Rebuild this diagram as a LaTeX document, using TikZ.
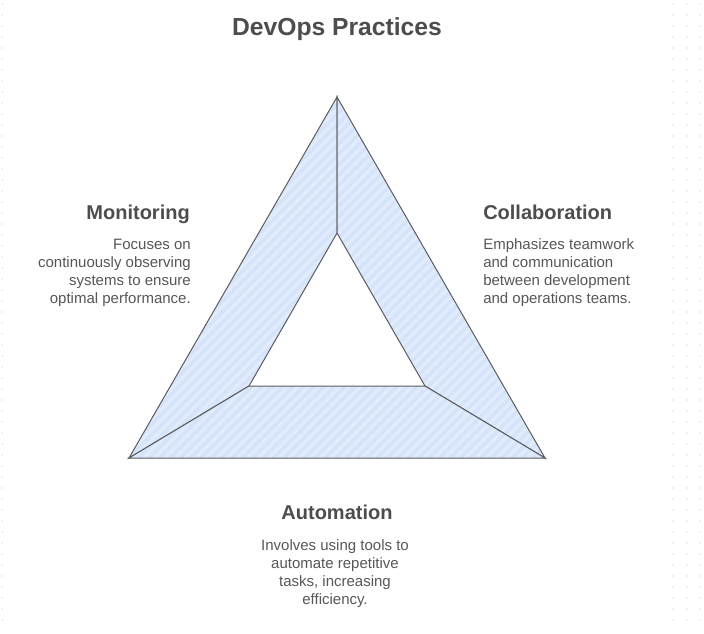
\documentclass[tikz,border=0pt]{standalone}
\usepackage{fontspec}
\setmainfont{Liberation Sans}
\usetikzlibrary{patterns.meta}

\definecolor{inktext}{HTML}{4D4D4D}
\definecolor{bodytext}{HTML}{575757}
\definecolor{bandfill}{HTML}{D6E4FB}
\definecolor{bandstripe}{HTML}{E0EBFC}
\definecolor{bandline}{HTML}{5C5C5C}
\definecolor{griddot}{HTML}{E2E2E2}

\begin{document}
\begin{tikzpicture}[x=0.75pt,y=-0.75pt,
  band/.style={draw=bandline, line width=0.75pt, line join=miter,
    preaction={fill=bandfill},
    preaction={pattern={Lines[angle=45,distance=5.5pt,line width=2.6pt]}, pattern color=bandstripe}},
  heading/.style={font=\bfseries\fontsize{15}{18}\selectfont, text=inktext, inner sep=0pt},
  body/.style={font=\fontsize{11.25}{13.5}\selectfont, text=bodytext, inner sep=0pt},
]
% canvas
\useasboundingbox[fill=white] (0,0) rectangle (704,633);

% faint dot grid at the canvas edges
\foreach \yy in {4,15,...,630} {
  \foreach \xx in {2,673,687,700} {
    \fill[griddot] (\xx,\yy) circle[radius=0.8];
  }
}

% outer and inner triangle corners
\coordinate (oT) at (337,97);
\coordinate (oL) at (129,458);
\coordinate (oR) at (545,458);
\coordinate (iT) at (337,233);
\coordinate (iL) at (249,386);
\coordinate (iR) at (425,386);

% three bands of the triangle
\draw[band] (oT) -- (iT) -- (iL) -- (oL) -- cycle;
\draw[band] (oT) -- (oR) -- (iR) -- (iT) -- cycle;
\draw[band] (oL) -- (iL) -- (iR) -- (oR) -- cycle;

% title
\node[font=\bfseries\fontsize{18.5}{22}\selectfont, text=inktext, inner sep=0pt, anchor=base] (title) at (337,35) {DevOps Practices};

% Monitoring
\node[heading, anchor=base east] (monH) at (190,219) {Monitoring};
\node[body, align=right, anchor=north east] (monB) at (191,238.5)
  {Focuses on\\continuously observing\\systems to ensure\\optimal performance.};

% Collaboration
\node[heading, anchor=base west] (colH) at (483,219) {Collaboration};
\node[body, align=left, anchor=north west] (colB) at (483,238.2)
  {Emphasizes teamwork\\and communication\\between development\\and operations teams.};

% Automation
\node[heading, anchor=base] (autH) at (337,519) {Automation};
\node[body, align=center, anchor=north] (autB) at (335,539.2)
  {Involves using tools to\\automate repetitive\\tasks, increasing\\efficiency.};
\end{tikzpicture}
\end{document}
